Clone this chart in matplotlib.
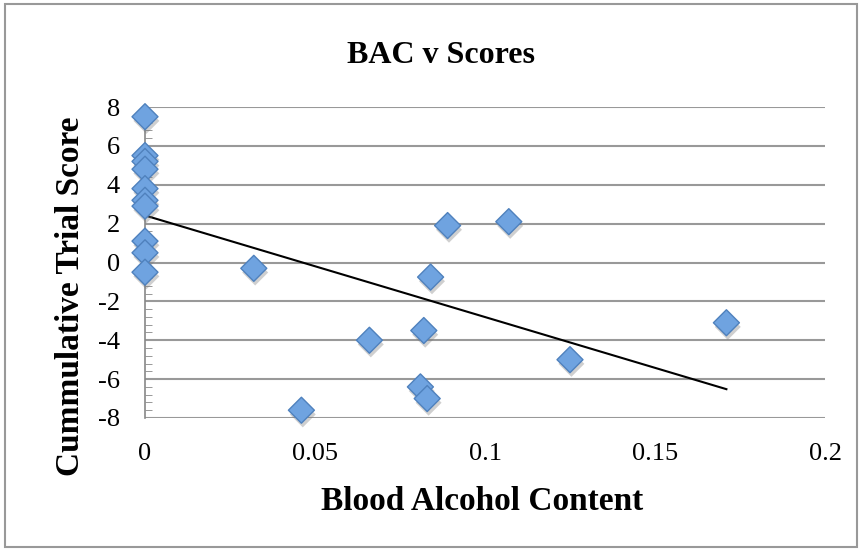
import matplotlib.pyplot as plt
import matplotlib.patheffects as pe
import numpy as np
from matplotlib.patches import Rectangle
from matplotlib.ticker import MultipleLocator

# BAC readings and cumulative trial scores
bac = [0, 0, 0, 0, 0, 0, 0, 0, 0, 0,
       0.032, 0.046, 0.066, 0.081, 0.082, 0.083, 0.084, 0.089, 0.107, 0.125, 0.171]
score = [7.5, 5.5, 5.2, 4.8, 3.8, 3.2, 2.9, 1.1, 0.5, -0.5,
         -0.3, -7.6, -4.0, -6.4, -3.5, -7.0, -0.75, 1.9, 2.1, -5.0, -3.1]

x_ticks = [0, 0.05, 0.1, 0.15, 0.2]
x_labels = ["0", "0.05", "0.1", "0.15", "0.2"]
y_ticks = [-8, -6, -4, -2, 0, 2, 4, 6, 8]

plt.rcParams['font.family'] = ['Liberation Serif', 'DejaVu Serif']
plt.rcParams['axes.unicode_minus'] = False

W, H = 862, 550
fig = plt.figure(figsize=(W / 100, H / 100), dpi=100)
ax = fig.add_axes([145 / W, 1 - 418 / H, 680 / W, 311 / H])

# linear trend line over the data range
m, b = np.polyfit(bac, score, 1)
tx = np.array([0, max(bac)])
ax.plot(tx, m * tx + b, color='black', lw=1.5, zorder=4)

ax.scatter(bac, score, marker='D', s=175, facecolor='#6fa3e0', edgecolor='#4f81bd',
           linewidth=1, zorder=5, clip_on=False,
           path_effects=[pe.SimplePatchShadow(offset=(1, -3), shadow_rgbFace='#777777', alpha=0.35),
                         pe.Normal()])

ax.set_xlim(0, 0.2)
ax.set_ylim(-8, 8)
ax.set_xticks(x_ticks)
ax.set_xticklabels(x_labels)
ax.set_yticks(y_ticks)
ax.yaxis.set_minor_locator(MultipleLocator(0.4))
ax.tick_params(axis='both', labelsize=19, length=0)
ax.tick_params(axis='x', pad=18)
ax.tick_params(axis='y', pad=18)
ax.tick_params(axis='y', which='minor', direction='in', length=5, color='#888888')

ax.grid(axis='y', color='#999999', lw=1.5)
ax.set_axisbelow(True)
for s in ['top', 'right', 'bottom']:
    ax.spines[s].set_visible(False)
ax.spines['left'].set_color('#888888')
ax.spines['left'].set_linewidth(1.2)

fig.text(441 / W, 1 - 63 / H, "BAC v Scores", fontsize=23, fontweight='bold',
         ha='center', va='baseline')
fig.text(482 / W, 1 - 510 / H, "Blood Alcohol Content", fontsize=24, fontweight='bold',
         ha='center', va='baseline')
fig.text(71 / W, 1 - 296 / H, "Cummulative Trial Score", fontsize=24, fontweight='bold',
         ha='center', va='center', rotation=90)

fig.patches.append(Rectangle((5 / W, 3 / H), 852 / W, 543 / H, transform=fig.transFigure,
                             fill=False, edgecolor='#999999', lw=1.5))

plt.savefig("out.png", dpi=100)
